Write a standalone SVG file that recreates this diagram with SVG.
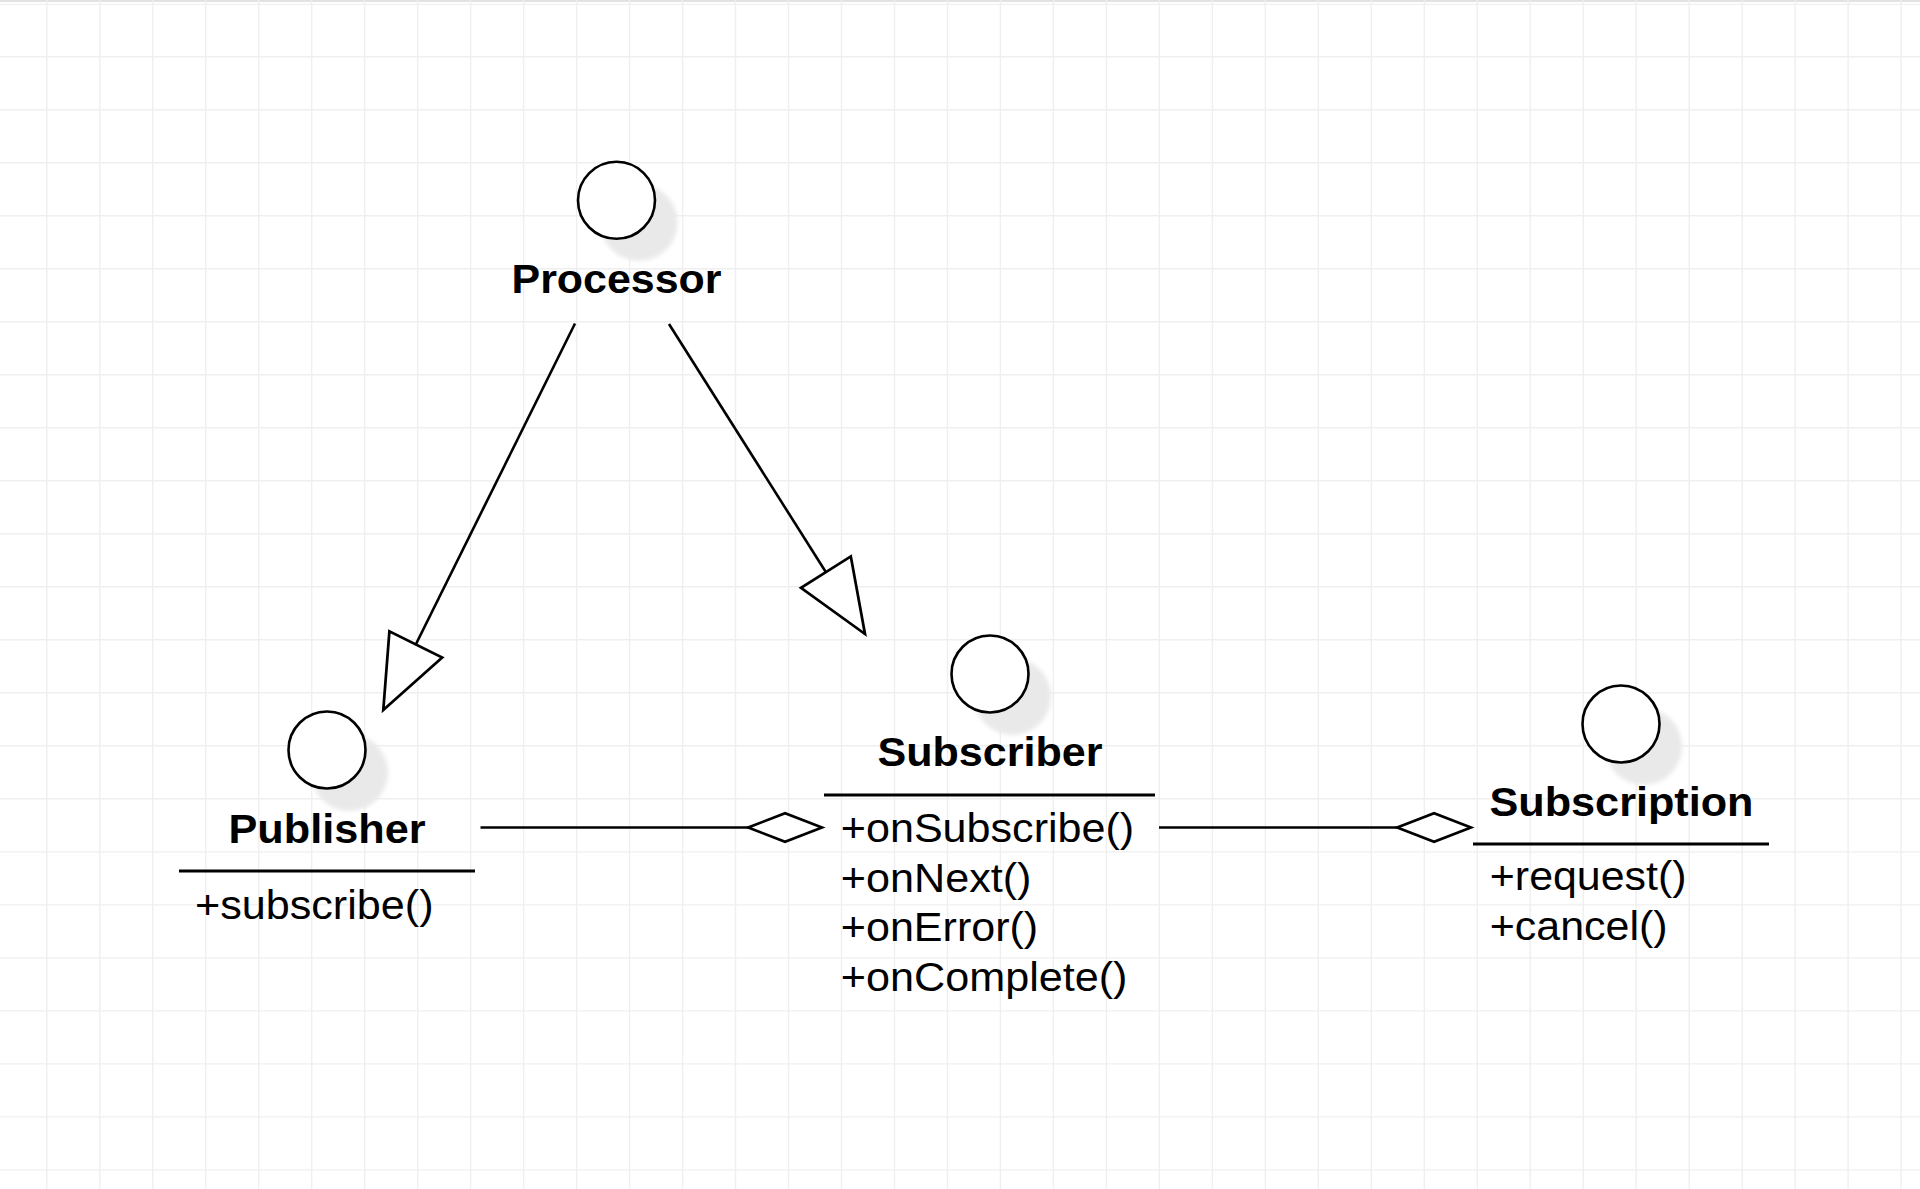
<svg xmlns="http://www.w3.org/2000/svg" width="1920" height="1189" viewBox="0 0 1920 1189">
  <style>
    .grid { stroke: #efefef; stroke-width: 1.4; fill: none; }
    .ring { fill: #ffffff; stroke: #000000; stroke-width: 2.6; }
    .shadow { fill: #e9e9e9; filter: url(#blur); }
    .title { font-family: "Liberation Sans", Arial, Helvetica, sans-serif; font-weight: bold; font-size: 40px; fill: #000000; text-anchor: middle; }
    .op { font-family: "Liberation Sans", Arial, Helvetica, sans-serif; font-size: 40px; fill: #000000; }
    .divider { stroke: #000000; stroke-width: 2.8; }
    .edge { stroke: #000000; stroke-width: 2.6; fill: none; }
  </style>
  <defs>
    <filter id="blur" x="-20%" y="-20%" width="140%" height="140%">
      <feGaussianBlur stdDeviation="2"/>
    </filter>
    <marker id="gen" markerUnits="userSpaceOnUse" markerWidth="80" markerHeight="70" refX="69.5" refY="0" orient="auto" viewBox="-3 -32 76 64" overflow="visible">
      <path d="M0,-28 L69.5,0 L0,28 Z" fill="#ffffff" stroke="#000000" stroke-width="2.6" stroke-linejoin="miter"/>
    </marker>
    <marker id="agg" markerUnits="userSpaceOnUse" markerWidth="80" markerHeight="40" refX="72" refY="0" orient="auto" viewBox="-3 -18 78 36" overflow="visible">
      <path d="M0,0 L36,-14 L72,0 L36,14 Z" fill="#ffffff" stroke="#000000" stroke-width="2.6" stroke-linejoin="miter"/>
    </marker>
  </defs>

  <rect x="0" y="0" width="1920" height="1189" fill="#ffffff"/>
  <g id="grid">
    <line x1="0" y1="1" x2="1920" y2="1" stroke="#e2e2e2" stroke-width="2"/>
    <line x1="0" y1="4.3" x2="1920" y2="4.3" stroke="#f0f0f0" stroke-width="1.2"/>
    <path class="grid" d="M46.8,0V1189 M99.8,0V1189 M152.8,0V1189 M205.7,0V1189 M258.7,0V1189 M311.7,0V1189 M364.7,0V1189 M417.7,0V1189 M470.6,0V1189 M523.6,0V1189 M576.6,0V1189 M629.6,0V1189 M682.6,0V1189 M735.5,0V1189 M788.5,0V1189 M841.5,0V1189 M894.5,0V1189 M947.5,0V1189 M1000.4,0V1189 M1053.4,0V1189 M1106.4,0V1189 M1159.4,0V1189 M1212.4,0V1189 M1265.3,0V1189 M1318.3,0V1189 M1371.3,0V1189 M1424.3,0V1189 M1477.3,0V1189 M1530.2,0V1189 M1583.2,0V1189 M1636.2,0V1189 M1689.2,0V1189 M1742.2,0V1189 M1795.1,0V1189 M1848.1,0V1189 M1901.1,0V1189 M0,56.7H1920 M0,109.7H1920 M0,162.7H1920 M0,215.7H1920 M0,268.7H1920 M0,321.8H1920 M0,374.8H1920 M0,427.8H1920 M0,480.8H1920 M0,533.8H1920 M0,586.8H1920 M0,639.8H1920 M0,692.8H1920 M0,745.8H1920 M0,798.8H1920 M0,851.9H1920 M0,904.9H1920 M0,957.9H1920 M0,1010.9H1920 M0,1063.9H1920 M0,1116.9H1920 M0,1169.9H1920"/>
  </g>

  <g id="node-processor">
    <circle class="shadow" cx="639" cy="222.5" r="38.5"/>
    <circle class="ring" cx="616.5" cy="200.3" r="38.5"/>
    <text class="title" x="616.5" y="292.7" textLength="210" lengthAdjust="spacingAndGlyphs">Processor</text>
  </g>

  <g id="node-publisher">
    <circle class="shadow" cx="349.5" cy="772.5" r="38.5"/>
    <circle class="ring" cx="327" cy="750" r="38.5"/>
    <text class="title" x="327" y="842.7" textLength="197" lengthAdjust="spacingAndGlyphs">Publisher</text>
    <line class="divider" x1="179" y1="871" x2="475" y2="871"/>
    <text class="op" x="195" y="919" textLength="238.5" lengthAdjust="spacingAndGlyphs">+subscribe()</text>
  </g>

  <g id="node-subscriber">
    <circle class="shadow" cx="1012.5" cy="696.5" r="38.5"/>
    <circle class="ring" cx="990" cy="674" r="38.5"/>
    <text class="title" x="990" y="766" textLength="225" lengthAdjust="spacingAndGlyphs">Subscriber</text>
    <line class="divider" x1="824" y1="795" x2="1155" y2="795"/>
    <text class="op" x="840.8" y="842.3" textLength="293.4" lengthAdjust="spacingAndGlyphs">+onSubscribe()</text>
    <text class="op" x="840.8" y="891.5" textLength="190.7" lengthAdjust="spacingAndGlyphs">+onNext()</text>
    <text class="op" x="840.8" y="941" textLength="197.4" lengthAdjust="spacingAndGlyphs">+onError()</text>
    <text class="op" x="840.8" y="991" textLength="286.7" lengthAdjust="spacingAndGlyphs">+onComplete()</text>
  </g>

  <g id="node-subscription">
    <circle class="shadow" cx="1643.5" cy="746.5" r="38.5"/>
    <circle class="ring" cx="1621" cy="724" r="38.5"/>
    <text class="title" x="1621.5" y="816" textLength="264" lengthAdjust="spacingAndGlyphs">Subscription</text>
    <line class="divider" x1="1473" y1="844" x2="1769" y2="844"/>
    <text class="op" x="1489.8" y="890" textLength="196.7" lengthAdjust="spacingAndGlyphs">+request()</text>
    <text class="op" x="1489.8" y="939.5" textLength="177.7" lengthAdjust="spacingAndGlyphs">+cancel()</text>
  </g>

  <g id="connectors">
    <path class="edge" d="M575,323.5 L383.3,710" marker-end="url(#gen)"/>
    <path class="edge" d="M669,324 L865,634" marker-end="url(#gen)"/>
    <path class="edge" d="M480.5,827.5 L822,827.5" marker-end="url(#agg)"/>
    <path class="edge" d="M1159,827.5 L1471,827.5" marker-end="url(#agg)"/>
  </g>
</svg>
